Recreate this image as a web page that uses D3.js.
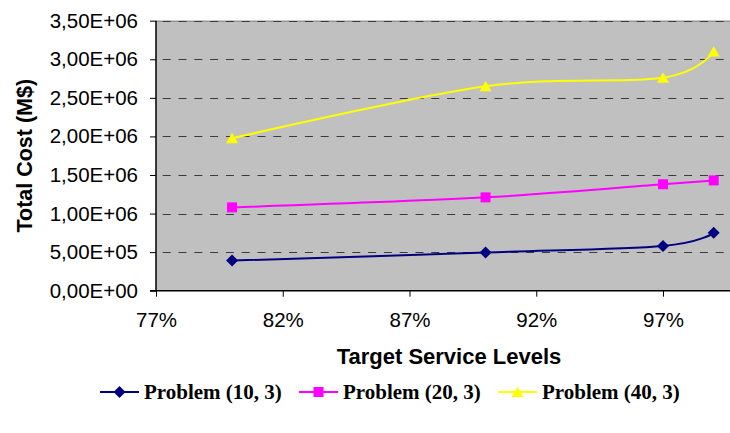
<!DOCTYPE html>
<html><head><meta charset="utf-8">
<script src="https://d3js.org/d3.v7.min.js"></script>
<style>body{margin:0;background:#fff}svg{display:block}</style>
</head><body>
<svg id="c" width="730" height="433"></svg>
<script>
// ---- data ----
const serviceLevels = [80, 90, 97, 99];              // % target service level
const problem10 = [390000, 495000, 580000, 750000];
const problem20 = [1080000, 1210000, 1380000, 1430000];
const problem40 = [1975000, 2650000, 2760000, 3100000];
const seriesNames = ["Problem (10, 3)", "Problem (20, 3)", "Problem (40, 3)"];
const xTickValues = [77, 82, 87, 92, 97];
const xTickLabels = ["77%", "82%", "87%", "92%", "97%"];
const yTickValues = [0, 500000, 1000000, 1500000, 2000000, 2500000, 3000000, 3500000];
const yTickLabels = ["0,00E+00", "5,00E+05", "1,00E+06", "1,50E+06", "2,00E+06", "2,50E+06", "3,00E+06", "3,50E+06"];
const xTitle = "Target Service Levels";
const yTitle = "Total Cost (M$)";

// ---- layout ----
const svg = d3.select("#c");
const L = 156, T = 20.7, B = 290.7;
const x = d3.scaleLinear().domain([77, 102]).range([L, L + 25 * 25.35]);
const y = d3.scaleLinear().domain([0, 3500000]).range([B, T]);
const R = x(102);

const series = [
  {name: seriesNames[0], values: problem10, color: "#000080", shape: "diamond"},
  {name: seriesNames[1], values: problem20, color: "#ff00ff", shape: "square"},
  {name: seriesNames[2], values: problem40, color: "#ffff00", shape: "triangle"}
];

function markerPath(shape) {
  if (shape === "diamond") return "M0,-6L6,0L0,6L-6,0Z";
  if (shape === "square") return "M-5,-5H5V5H-5Z";
  return "M0,-5.5L6,5L-6,5Z";
}

// plot background
svg.append("rect").attr("x", L).attr("y", T).attr("width", R - L).attr("height", B - T)
  .attr("fill", "#c0c0c0");
svg.append("line").attr("x1", L).attr("x2", R).attr("y1", T + 0.5).attr("y2", T + 0.5)
  .attr("stroke", "#808080").attr("stroke-width", 1);

// gridlines
svg.append("g").selectAll("line").data(yTickValues.filter(v => v > 0)).join("line")
  .attr("x1", L).attr("x2", R)
  .attr("y1", d => Math.round(y(d)) + 0.5).attr("y2", d => Math.round(y(d)) + 0.5)
  .attr("stroke", "#3a3a3a").attr("stroke-width", 1.2)
  .attr("stroke-dasharray", "8,7.8").attr("stroke-dashoffset", 9.1);

// axes
const yAxis = d3.axisLeft(y).tickValues(yTickValues)
  .tickFormat((d, i) => yTickLabels[i]).tickSize(6).tickPadding(12);
const gy = svg.append("g").attr("transform", `translate(${L},0)`).call(yAxis);
gy.select(".domain").attr("stroke", "#000").attr("stroke-width", 1.5).attr("d", `M-6,${B}H0V${T}`);
gy.selectAll(".tick line").attr("stroke", "#000");
gy.selectAll(".tick text").attr("font-family", "Liberation Sans, Arial, sans-serif")
  .attr("font-size", 20.5).attr("fill", "#000");

const xAxis = d3.axisBottom(x).tickValues(xTickValues)
  .tickFormat((d, i) => xTickLabels[i]).tickSize(6).tickPadding(16);
const gx = svg.append("g").attr("transform", `translate(0,${B})`).call(xAxis);
gx.select(".domain").attr("stroke", "#000").attr("stroke-width", 1.5).attr("d", `M${L},0H${R}`);
gx.selectAll(".tick line").attr("stroke", "#000");
gx.selectAll(".tick text").attr("font-family", "Liberation Sans, Arial, sans-serif")
  .attr("font-size", 20.5).attr("fill", "#000");

// lines + markers
const line = d3.line().x((d, i) => x(serviceLevels[i])).y(d => y(d)).curve(d3.curveCardinal.tension(0));
series.forEach(s => {
  svg.append("path").attr("d", line(s.values)).attr("fill", "none")
    .attr("stroke", s.color).attr("stroke-width", 2);
  svg.append("g").selectAll("path").data(s.values).join("path")
    .attr("transform", (d, i) => `translate(${x(serviceLevels[i])},${y(d)})`)
    .attr("d", markerPath(s.shape)).attr("fill", s.color);
});

// titles
svg.append("text").attr("x", 449).attr("y", 364).attr("text-anchor", "middle")
  .attr("font-family", "Liberation Sans, Arial, sans-serif").attr("font-weight", "bold")
  .attr("font-size", 22).text(xTitle);
svg.append("text").attr("transform", `translate(32,${(T + B) / 2}) rotate(-90)`)
  .attr("text-anchor", "middle")
  .attr("font-family", "Liberation Sans, Arial, sans-serif").attr("font-weight", "bold")
  .attr("font-size", 21.5).text(yTitle);

// legend
const lg = svg.append("g").attr("transform", "translate(100,392)");
series.forEach((s, i) => {
  const g = lg.append("g").attr("transform", `translate(${i * 199},0)`);
  g.append("line").attr("x1", 0).attr("x2", 39).attr("y1", 0).attr("y2", 0)
    .attr("stroke", s.color).attr("stroke-width", 2);
  g.append("path").attr("transform", "translate(19.5,0)").attr("d", markerPath(s.shape)).attr("fill", s.color);
  g.append("text").attr("x", 44).attr("y", 7)
    .attr("font-family", "Liberation Serif, 'Times New Roman', serif").attr("font-weight", "bold")
    .attr("font-size", 21).text(s.name);
});
</script>
</body></html>
